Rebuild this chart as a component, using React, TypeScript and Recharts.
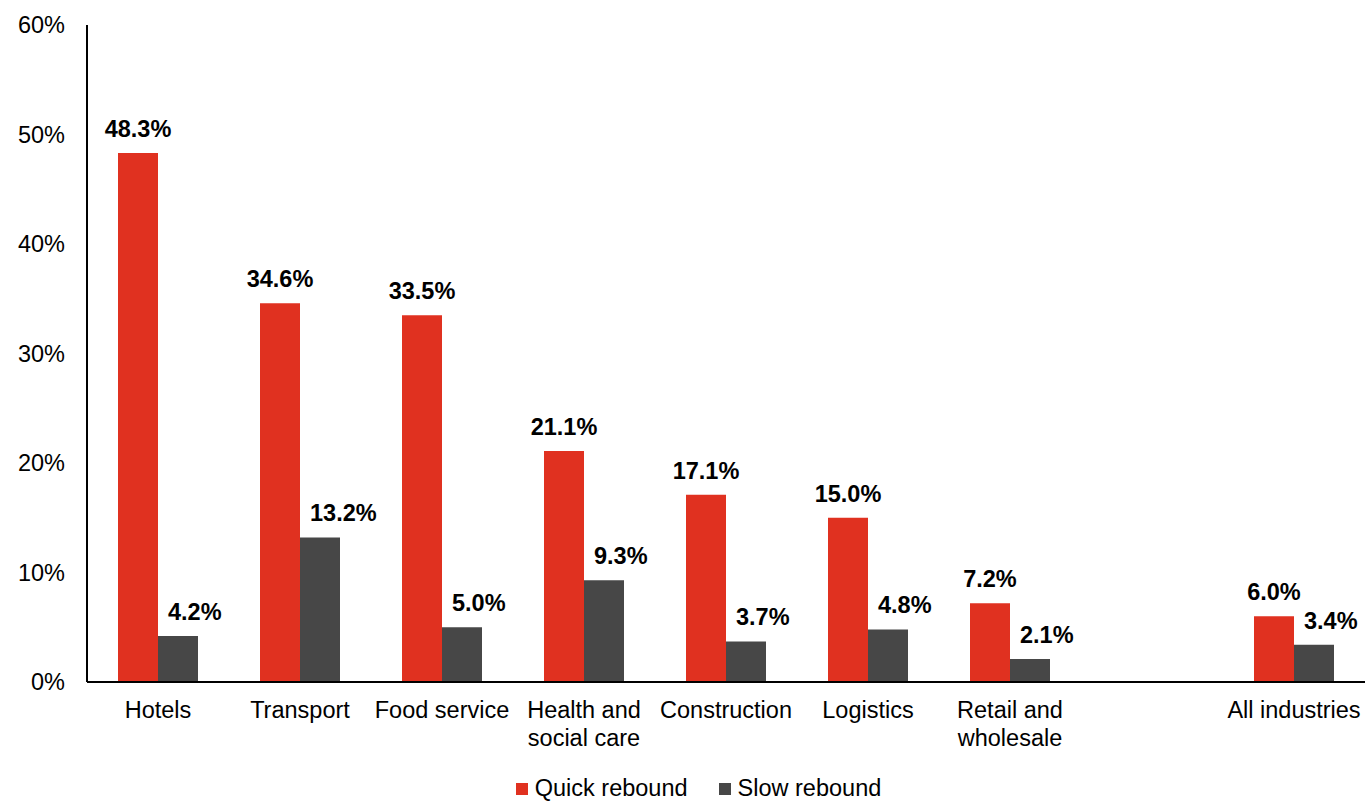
import React from 'react';
import { BarChart, Bar, XAxis, YAxis, Legend, LabelList } from 'recharts';

const FONT = '"Liberation Sans", Arial, sans-serif';
const RED = '#e03120';
const GREY = '#474747';

// Blank slot before "All industries" keeps the gap between the groups
const industries = [
  'Hotels',
  'Transport',
  'Food service',
  'Health and social care',
  'Construction',
  'Logistics',
  'Retail and wholesale',
  '',
  'All industries',
];
const quickRebound = [48.3, 34.6, 33.5, 21.1, 17.1, 15.0, 7.2, null, 6.0];
const slowRebound = [4.2, 13.2, 5.0, 9.3, 3.7, 4.8, 2.1, null, 3.4];
const yTicks = [0, 10, 20, 30, 40, 50, 60];

const data = industries.map((name, i) => ({
  name,
  quick: quickRebound[i],
  slow: slowRebound[i],
}));

// wrap long labels after "and"
const splitLabel = (label: string): string[] => {
  const idx = label.indexOf(' and ');
  if (idx < 0) return [label];
  return [label.slice(0, idx + 4), label.slice(idx + 5)];
};

const CategoryTick = (props: any) => {
  const { x, y, payload } = props;
  const lines = splitLabel(String(payload.value));
  return (
    <text x={x} y={y} textAnchor="middle" fontFamily={FONT} fontSize={23.5} fill="#000">
      {lines.map((line, i) => (
        <tspan key={i} x={x} dy={i === 0 ? 36 : 28}>
          {line}
        </tspan>
      ))}
    </text>
  );
};

const valueLabel = (anchor: 'middle' | 'start') => (props: any) => {
  const { x, y, width, value } = props;
  if (value == null) return null;
  const tx = anchor === 'middle' ? x + width / 2 : x + 10;
  return (
    <text
      x={tx}
      y={y - 16}
      textAnchor={anchor}
      fontFamily={FONT}
      fontSize={23.5}
      fontWeight="bold"
      fill="#000"
    >
      {`${Number(value).toFixed(1)}%`}
    </text>
  );
};

const LegendContent = () => (
  <div
    style={{
      position: 'relative',
      top: 5,
      height: 35,
      display: 'flex',
      justifyContent: 'center',
      alignItems: 'center',
      paddingLeft: 32,
      fontFamily: FONT,
      fontSize: 23.5,
      lineHeight: 1,
      color: '#000',
    }}
  >
    {[
      { label: 'Quick rebound', color: RED },
      { label: 'Slow rebound', color: GREY },
    ].map((item, i) => (
      <span key={item.label} style={{ display: 'flex', alignItems: 'center', marginLeft: i ? 31 : 0 }}>
        <span style={{ width: 12, height: 12, background: item.color, marginRight: 7 }} />
        {item.label}
      </span>
    ))}
  </div>
);

const App: React.FC = () => {
  return (
    <div style={{ position: 'absolute', left: 0, top: 0, width: 1368, height: 801, background: '#fff' }}>
      <BarChart
        width={1368}
        height={801}
        data={data}
        margin={{ top: 25, right: 3, bottom: 0, left: 0 }}
        barSize={40}
        barGap={0}
      >
        <YAxis
          width={87}
          domain={[0, 60]}
          ticks={yTicks}
          tickFormatter={(v) => `${v}%`}
          tickLine={false}
          tickSize={0}
          tickMargin={22}
          axisLine={{ stroke: '#000', strokeWidth: 2 }}
          tick={{ fontFamily: FONT, fontSize: 23.5, fill: '#000' }}
        />
        <XAxis
          dataKey="name"
          height={84}
          interval={0}
          tickLine={false}
          tickSize={0}
          tickMargin={0}
          axisLine={{ stroke: '#000', strokeWidth: 2 }}
          tick={<CategoryTick />}
        />
        <Legend verticalAlign="bottom" height={35} content={<LegendContent />} />
        <Bar dataKey="quick" name="Quick rebound" fill={RED} isAnimationActive={false}>
          <LabelList dataKey="quick" content={valueLabel('middle')} />
        </Bar>
        <Bar dataKey="slow" name="Slow rebound" fill={GREY} isAnimationActive={false}>
          <LabelList dataKey="slow" content={valueLabel('start')} />
        </Bar>
      </BarChart>
    </div>
  );
};

export default App;
